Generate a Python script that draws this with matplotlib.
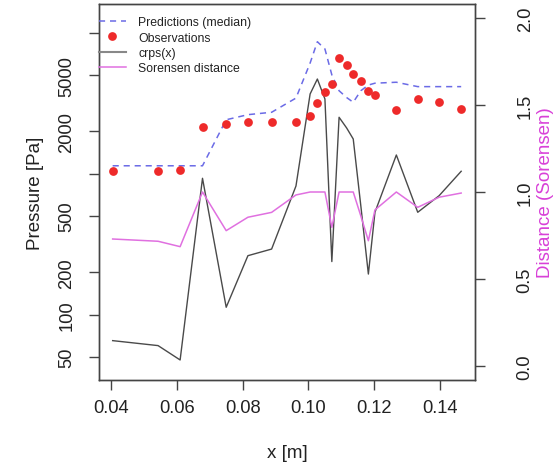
import matplotlib
matplotlib.use("Agg")
import matplotlib.pyplot as plt
from matplotlib.lines import Line2D

# ---------------- data ----------------
x_m = [0.0405, 0.0543, 0.0610, 0.0678, 0.0750, 0.0816, 0.0888, 0.0962, 0.1005,
       0.1027, 0.1050, 0.1071, 0.1093, 0.1116, 0.1136, 0.1159, 0.1182, 0.1202,
       0.1267, 0.1332, 0.1397, 0.1464]
observations = [1040, 1040, 1065, 2140, 2250, 2320, 2335, 2335, 2575, 3170, 3810,
                4320, 6680, 5900, 5115, 4540, 3890, 3630, 2850, 3415, 3250, 2900]
predictions = [1140, 1140, 1140, 1140, 2420, 2630, 2735, 3450, 6120, 8670, 7700,
               5040, 3890, 3480, 3220, 3890, 4270, 4400, 4470, 4160, 4160, 4160]
crps = [65.3, 60.2, 47.6, 929, 112.7, 262, 292, 819, 3690, 4710, 3400, 238, 2520,
        2115, 1767, 594, 194, 533, 1360, 533, 699, 1042]
sorensen = [0.730, 0.717, 0.686, 1.0, 0.778, 0.855, 0.883, 0.983, 1.0, 1.0, 1.0,
            0.797, 1.0, 1.0, 1.0, 0.863, 0.720, 0.897, 1.0, 0.912, 0.970, 0.994]

x_ticks = [0.04, 0.06, 0.08, 0.10, 0.12, 0.14]
x_ticklabels = ["0.04", "0.06", "0.08", "0.10", "0.12", "0.14"]
p_ticks = [50, 100, 200, 500, 1000, 2000, 5000, 10000]
p_ticklabels = ["50", "100", "200", "500", "", "2000", "5000", ""]
d_ticks = [0.0, 0.5, 1.0, 1.5, 2.0]
d_ticklabels = ["0.0", "0.5", "1.0", "1.5", "2.0"]

legend_labels = ["Predictions (median)", "Observations", "crps(x)", "Sorensen distance"]

# ---------------- style ----------------
FONT = "Liberation Sans"
c_pred = "#6b6be6"
c_obs = "#ee2a2a"
c_crps = "#4a4a4a"
c_sor = "#e070e0"
c_sor_lab = "#d840d8"
c_axis = "#444444"
c_text = "#222222"

W, H = 554, 464
fig = plt.figure(figsize=(W / 100, H / 100), dpi=100)
L, R, B, T = 99, 475, 381, 5
ax = fig.add_axes([L / W, (H - B) / H, (R - L) / W, (B - T) / H])

ax.set_yscale("log")
ax.set_xlim(0.03635, 0.1506)
ax.set_ylim(34.3, 16070)

ax.plot(x_m, predictions, color=c_pred, lw=1.1, dashes=(4, 3.2), zorder=3)
ax.plot(x_m, observations, "o", color=c_obs, ms=6.3, mec="none", zorder=4)
ax.plot(x_m, crps, color=c_crps, lw=1.0, zorder=3)

ax2 = ax.twinx()
ax2.set_ylim(-0.08, 2.08)
ax2.plot(x_m, sorensen, color=c_sor, lw=1.1, zorder=3)

# axes styling
for a in (ax, ax2):
    for s in a.spines.values():
        s.set_color(c_axis)
        s.set_linewidth(1.0)
    a.minorticks_off()

ax.set_xticks(x_ticks)
ax.set_xticklabels(x_ticklabels)
ax.set_yticks(p_ticks)
ax.set_yticklabels(p_ticklabels)
ax.yaxis.set_minor_locator(matplotlib.ticker.NullLocator())
ax2.set_yticks(d_ticks)
ax2.set_yticklabels(d_ticklabels)

TS = 13.2
ax.tick_params(axis="x", length=7, width=1, color=c_axis, pad=7,
               labelsize=TS, labelcolor=c_text)
ax.tick_params(axis="y", length=7, width=1, color=c_axis, pad=10,
               labelsize=TS, labelcolor=c_text, labelrotation=90)
ax2.tick_params(axis="y", length=7, width=1, color=c_axis, pad=23,
                labelsize=TS, labelcolor=c_text, labelrotation=90)
for lbl in ax.get_xticklabels() + ax.get_yticklabels() + ax2.get_yticklabels():
    lbl.set_fontfamily(FONT)
for lbl in ax.get_yticklabels() + ax2.get_yticklabels():
    lbl.set_verticalalignment("center")

LS = 13.5
ax.set_xlabel("x [m]", fontsize=LS, family=FONT, color=c_text)
ax.xaxis.label.set_verticalalignment("center")
ax.xaxis.set_label_coords(0.5, (B - 454) / (B - T))
ax.set_ylabel("Pressure [Pa]", fontsize=LS, family=FONT, color=c_text)
ax.yaxis.label.set_verticalalignment("center")
ax.yaxis.set_label_coords((35 - L) / (R - L), 0.5)
ax2.set_ylabel("Distance (Sorensen)", fontsize=LS, family=FONT, color=c_sor_lab,
               rotation=90)
ax2.yaxis.label.set_verticalalignment("center")
ax2.yaxis.set_label_coords((546 - L) / (R - L), 0.5)

handles = [
    Line2D([], [], color=c_pred, lw=1.1, dashes=(4, 3.2)),
    Line2D([], [], color=c_obs, marker="o", ls="none", ms=6.3, mec="none"),
    Line2D([], [], color="#888888", lw=1.5),
    Line2D([], [], color=c_sor, lw=1.1),
]
leg = ax2.legend(handles, legend_labels, loc="upper left",
                 bbox_to_anchor=(0.0, (B - 17.5) / (B - T)),
                 frameon=False, prop={"family": FONT, "size": 8.8},
                 handlelength=2.2, handletextpad=1.0, labelspacing=0.26,
                 borderpad=0.0, borderaxespad=0.0)
for t in leg.get_texts():
    t.set_color(c_text)

fig.savefig("out.png", dpi=100, facecolor="white")
